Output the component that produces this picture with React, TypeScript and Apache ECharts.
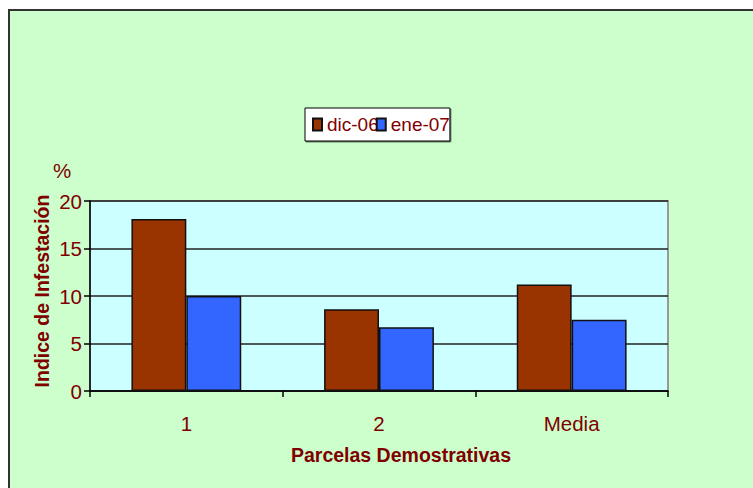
import React, { useEffect, useRef } from "react";
import * as echarts from "echarts";

const categories = ["1", "2", "Media"];
const seriesNames = ["dic-06", "ene-07"];
const dic06 = [18.1, 8.6, 11.2];
const ene07 = [10.0, 6.7, 7.5];
const yTicks = { min: 0, max: 20, interval: 5 };

const FONT = "'Liberation Sans', Arial, sans-serif";
const RED = "#800000";

export default function App() {
  const ref = useRef<HTMLDivElement>(null);
  useEffect(() => {
    if (!ref.current) return;
    const chart = echarts.init(ref.current, undefined, { renderer: "svg" });
    chart.setOption({
      animation: false,
      backgroundColor: "transparent",
      textStyle: { fontFamily: FONT },
      legend: {
        data: seriesNames,
        left: 305,
        top: 108,
        padding: [7, 0, 7, 7],
        itemWidth: 9,
        itemHeight: 12,
        itemGap: -3,
        icon: "rect",
        backgroundColor: "#fff",
        borderColor: "#000",
        borderWidth: 1,
        shadowColor: "rgba(0,0,0,0.5)",
        shadowOffsetX: 1,
        shadowOffsetY: 1,
        shadowBlur: 0,
        textStyle: { fontSize: 19, color: RED, fontFamily: FONT },
      },
      grid: {
        left: 90,
        right: 85,
        top: 201,
        bottom: 97,
        show: true,
        backgroundColor: "#ccffff",
        borderColor: "#999",
        borderWidth: 2,
      },
      xAxis: {
        type: "category",
        data: categories,
        axisLine: { show: true, lineStyle: { color: "#000", width: 1.5 } },
        axisTick: { show: true, length: 6, lineStyle: { color: "#000", width: 1.5 } },
        axisLabel: { color: RED, fontSize: 20.5, margin: 22, fontFamily: FONT },
      },
      yAxis: {
        type: "value",
        min: yTicks.min,
        max: yTicks.max,
        interval: yTicks.interval,
        axisLine: { show: true, lineStyle: { color: "#000", width: 1.5 } },
        axisTick: { show: true, length: 6, lineStyle: { color: "#000", width: 1.5 } },
        axisLabel: { color: RED, fontSize: 20.5, margin: 8, fontFamily: FONT },
        splitLine: { show: true, lineStyle: { color: "#222", width: 1.5 } },
      },
      graphic: [
        {
          type: "text",
          x: 401,
          y: 455,
          style: {
            text: "Parcelas Demostrativas",
            fill: RED,
            font: `bold 19.5px ${FONT}`,
            align: "center",
            verticalAlign: "middle",
          },
        },
        {
          type: "text",
          x: 42,
          y: 291,
          rotation: Math.PI / 2,
          style: {
            text: "Indice de Infestación",
            fill: RED,
            font: `bold 19.5px ${FONT}`,
            align: "center",
            verticalAlign: "middle",
          },
        },
        {
          type: "text",
          x: 62,
          y: 170,
          style: {
            text: "%",
            fill: RED,
            font: `20.5px ${FONT}`,
            align: "center",
            verticalAlign: "middle",
          },
        },
      ],
      series: [
        {
          name: seriesNames[0],
          type: "bar",
          data: dic06,
          barGap: "0%",
          barCategoryGap: "43%",
          itemStyle: { color: "#993300", borderColor: "#111", borderWidth: 1.5 },
        },
        {
          name: seriesNames[1],
          type: "bar",
          data: ene07,
          barGap: "0%",
          barCategoryGap: "43%",
          itemStyle: { color: "#3366ff", borderColor: "#111", borderWidth: 1.5 },
        },
      ],
    });
    return () => chart.dispose();
  }, []);

  return (
    <div
      style={{
        position: "fixed",
        left: 0,
        top: 0,
        width: 753,
        height: 488,
        background: "#fff",
        overflow: "hidden",
      }}
    >
      <div
        style={{
          position: "absolute",
          left: 8,
          top: 9,
          width: 800,
          height: 600,
          background: "#ccffcc",
          borderLeft: "2px solid #333",
          borderTop: "2px solid #333",
        }}
      />
      <div
        ref={ref}
        style={{ position: "absolute", left: 0, top: 0, width: 753, height: 488 }}
      />
    </div>
  );
}
